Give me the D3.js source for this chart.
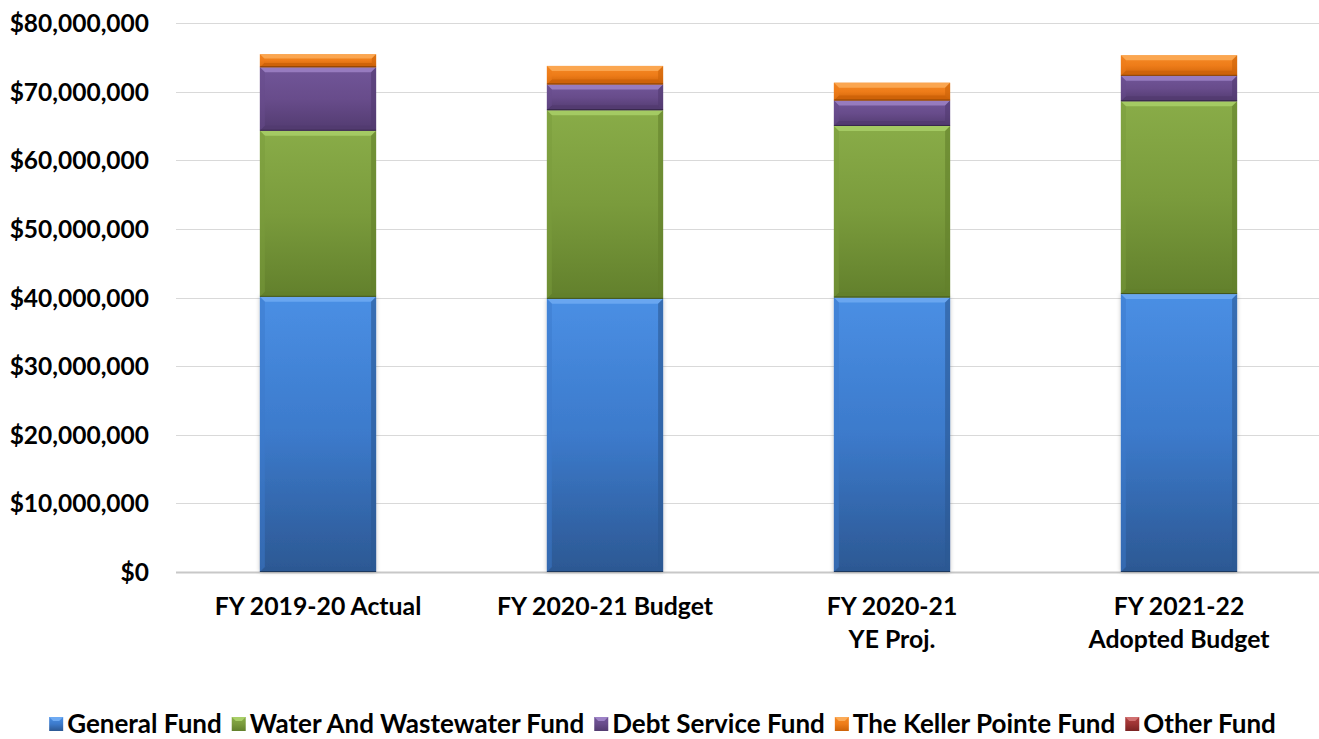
<!DOCTYPE html>
<html><head><meta charset="utf-8">
<script src="https://cdn.jsdelivr.net/npm/d3@7/dist/d3.min.js"></script>
<style>
body{margin:0;background:#fff;}
text{font-family:Lato,"Open Sans",sans-serif;font-weight:700;fill:#000;}
</style></head>
<body>
<svg id="chart" width="1319" height="739"></svg>
<script>
const categories = [["FY 2019-20 Actual"], ["FY 2020-21 Budget"], ["FY 2020-21", "YE Proj."], ["FY 2021-22", "Adopted Budget"]];
const seriesNames = ["General Fund", "Water And Wastewater Fund", "Debt Service Fund", "The Keller Pointe Fund", "Other Fund"];
const generalFund = [40100000, 39800000, 40000000, 40500000];
const waterFund = [24200000, 27500000, 25000000, 28100000];
const debtFund = [9250000, 3750000, 3700000, 3700000];
const kellerFund = [1900000, 2700000, 2600000, 3000000];
const otherFund = [0, 0, 0, 0];
const yTicks = [0, 10000000, 20000000, 30000000, 40000000, 50000000, 60000000, 70000000, 80000000];

const colors = [
  {top:"#4a8fe4", mid:"#3c7acb", bot:"#2c5893", hi:"#6eaaf2"},
  {top:"#89ac48", mid:"#7a9b3c", bot:"#62802c", hi:"#a9cf68"},
  {top:"#7156996", mid:"#684c8b", bot:"#523b70", hi:"#9d82c6"},
  {top:"#f58a25", mid:"#ee7c19", bot:"#cc6208", hi:"#fbab58"},
  {top:"#b04040", mid:"#9c3333", bot:"#7a2222", hi:"#d07070"}
];
colors[2].top = "#715699";
const seriesVals = [generalFund, waterFund, debtFund, kellerFund, otherFund];

const svg = d3.select("#chart");
const y = d3.scaleLinear().domain([0, 80000000]).range([572, 23]);
const x = d3.scaleBand().domain(d3.range(categories.length)).range([174.5, 1322.5]).paddingInner(0.595).paddingOuter(0.2975);

const defs = svg.append("defs");
colors.forEach((c, i) => {
  const g = defs.append("linearGradient").attr("id", "g" + i).attr("x1", 0).attr("y1", 0).attr("x2", 0).attr("y2", 1);
  g.append("stop").attr("offset", "0%").attr("stop-color", c.top);
  g.append("stop").attr("offset", "50%").attr("stop-color", c.mid);
  g.append("stop").attr("offset", "100%").attr("stop-color", c.bot);
});
const sh = defs.append("filter").attr("id", "shadow").attr("x", "-10%").attr("y", "-10%").attr("width", "120%").attr("height", "120%");
sh.append("feDropShadow").attr("dx", 0).attr("dy", 0).attr("stdDeviation", 2).attr("flood-color", "#000").attr("flood-opacity", 0.25);

// gridlines
svg.append("g").selectAll("line").data(yTicks).join("line")
  .attr("x1", 176).attr("x2", 1319)
  .attr("y1", d => Math.round(y(d)) + 0.5).attr("y2", d => Math.round(y(d)) + 0.5)
  .attr("stroke", d => d === 0 ? "#c8c8c8" : "#d9d9d9").attr("stroke-width", d => d === 0 ? 2 : 1);

// y axis labels
const yAxis = d3.axisLeft(y).tickValues(yTicks).tickSize(0).tickPadding(0)
  .tickFormat(d => "$" + d3.format(",")(d));
const ya = svg.append("g").attr("transform", "translate(149,0)").call(yAxis);
ya.select(".domain").remove();
ya.selectAll("text").attr("font-size", 24.5).attr("font-family", "Lato").attr("font-weight", 700).attr("fill", "#000").attr("dy", "0.35em");

// stacks
const table = categories.map((c, i) => {
  const o = {i};
  seriesNames.forEach((s, k) => o[s] = seriesVals[k][i]);
  return o;
});
const stacked = d3.stack().keys(seriesNames)(table);
const bw = x.bandwidth();
stacked.forEach((layer, k) => {
  const c = colors[k];
  const g = svg.append("g");
  layer.forEach(d => {
    if (d[1] - d[0] <= 0) return;
    const x0 = x(d.data.i), y0 = y(d[1]), h = y(d[0]) - y(d[1]);
    g.append("rect").attr("x", x0).attr("y", y0).attr("width", bw).attr("height", h)
      .attr("fill", `url(#g${k})`).attr("filter", k === 0 ? "url(#shadow)" : null);
    const b = Math.min(5, h / 3);
    g.append("polygon").attr("points", `${x0},${y0} ${x0 + bw},${y0} ${x0 + bw - b},${y0 + b} ${x0 + b},${y0 + b}`)
      .attr("fill", c.hi).attr("opacity", 0.85);
    g.append("polygon").attr("points", `${x0 + bw},${y0} ${x0 + bw},${y0 + h} ${x0 + bw - b},${y0 + h - b} ${x0 + bw - b},${y0 + b}`)
      .attr("fill", c.bot).attr("opacity", 0.6);
    g.append("polygon").attr("points", `${x0},${y0 + h} ${x0 + bw},${y0 + h} ${x0 + bw - b},${y0 + h - b} ${x0 + b},${y0 + h - b}`)
      .attr("fill", c.bot).attr("opacity", 0.85);
    g.append("polygon").attr("points", `${x0},${y0} ${x0},${y0 + h} ${x0 + b},${y0 + h - b} ${x0 + b},${y0 + b}`)
      .attr("fill", c.mid).attr("opacity", 0.5);
    g.append("line").attr("x1", x0).attr("x2", x0 + bw).attr("y1", y0 + h - 0.5).attr("y2", y0 + h - 0.5)
      .attr("stroke", "#000").attr("stroke-opacity", 0.35).attr("stroke-width", 1);
  });
});

// x labels
const xl = svg.append("g");
categories.forEach((lines, i) => {
  const t = xl.append("text").attr("x", x(i) + bw / 2).attr("y", 615).attr("text-anchor", "middle").attr("font-size", 24.8);
  lines.forEach((ln, j) => t.append("tspan").attr("x", x(i) + bw / 2).attr("dy", j === 0 ? 0 : 33).text(ln));
});

// legend
const lg = svg.append("g");
let lx = 0;
const items = seriesNames.map((s, k) => {
  const it = lg.append("g");
  it.append("rect").attr("x", 0).attr("y", -7).attr("width", 14).attr("height", 14).attr("fill", `url(#g${k})`);
  it.append("polygon").attr("points", "0,-7 14,-7 10,-3 4,-3").attr("fill", colors[k].hi);
  const t = it.append("text").attr("x", 18).attr("y", 0).attr("dy", "0.35em").attr("font-size", 26).text(s);
  const w = 18 + t.node().getComputedTextLength();
  return {it, w};
});
const gap = 10;
const total = d3.sum(items, d => d.w) + gap * (items.length - 1);
lx = (1319 - total) / 2 + 3;
items.forEach(d => { d.it.attr("transform", `translate(${lx},724)`); lx += d.w + gap; });
</script>
</body></html>
